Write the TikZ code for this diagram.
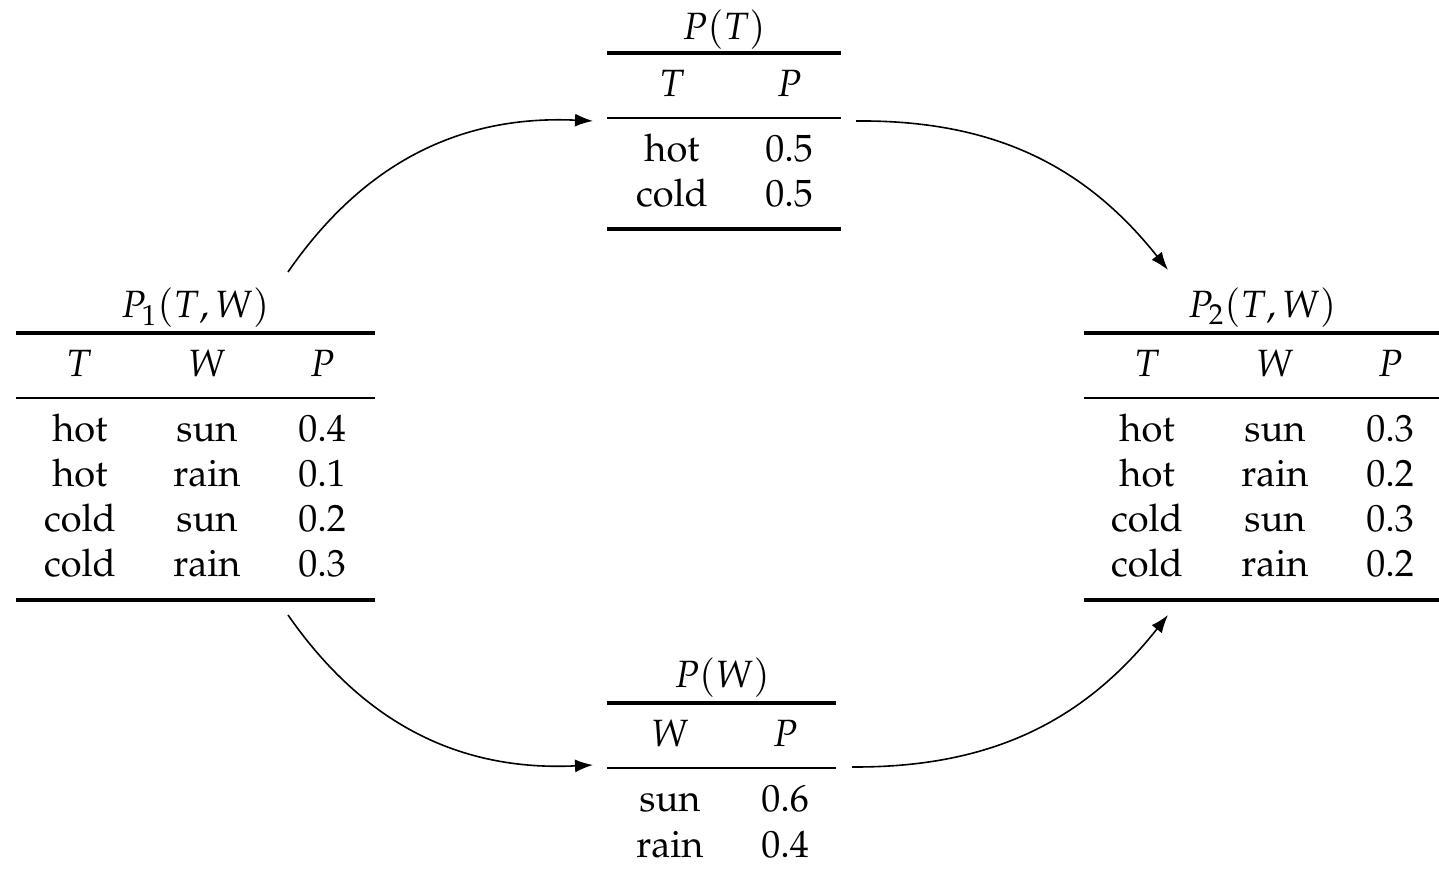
\documentclass[tikz,border=0pt]{standalone}
\usepackage[T1]{fontenc}
\usepackage{mathpazo}
\usetikzlibrary{arrows.meta}
\begin{document}
\begin{tikzpicture}[x=0.5pt,y=0.5pt,
  cell/.style={anchor=base,inner sep=0pt,font=\fontsize{19}{23}\selectfont},
  heavyrule/.style={line width=1.9pt},
  lightrule/.style={line width=1.05pt},
  flow/.style={line width=0.8pt,-{Latex[length=9pt,width=6.5pt]}}]
\useasboundingbox (0,0) rectangle (1439,876);
% ---------- P1(T,W)
\node[cell] (p1title) at (195,558) {$P_1(T,W)$};
\draw[heavyrule] (16,543) -- (375,543);
\node[cell] (p1hT) at (79,499) {$T$};
\node[cell] (p1hW) at (207,499) {$W$};
\node[cell] (p1hP) at (322,499) {$P$};
\draw[lightrule] (16,478) -- (375,478);
\node[cell] (p1a1) at (80,434) {hot};  \node[cell] (p1b1) at (207,434) {sun};  \node[cell] (p1c1) at (322,434) {0.4};
\node[cell] (p1a2) at (80,389) {hot};  \node[cell] (p1b2) at (207,389) {rain}; \node[cell] (p1c2) at (322,389) {0.1};
\node[cell] (p1a3) at (80,344) {cold}; \node[cell] (p1b3) at (207,344) {sun};  \node[cell] (p1c3) at (322,344) {0.2};
\node[cell] (p1a4) at (80,299) {cold}; \node[cell] (p1b4) at (207,299) {rain}; \node[cell] (p1c4) at (322,299) {0.3};
\draw[heavyrule] (16,276) -- (375,276);
% ---------- P2(T,W)
\node[cell] (p2title) at (1262,558) {$P_2(T,W)$};
\draw[heavyrule] (1084,543) -- (1439,543);
\node[cell] (p2hT) at (1147,499) {$T$};
\node[cell] (p2hW) at (1275,499) {$W$};
\node[cell] (p2hP) at (1390,499) {$P$};
\draw[lightrule] (1084,478) -- (1439,478);
\node[cell] (p2a1) at (1147,434) {hot};  \node[cell] (p2b1) at (1275,434) {sun};  \node[cell] (p2c1) at (1390,434) {0.3};
\node[cell] (p2a2) at (1147,389) {hot};  \node[cell] (p2b2) at (1275,389) {rain}; \node[cell] (p2c2) at (1390,389) {0.2};
\node[cell] (p2a3) at (1147,344) {cold}; \node[cell] (p2b3) at (1275,344) {sun};  \node[cell] (p2c3) at (1390,344) {0.3};
\node[cell] (p2a4) at (1147,299) {cold}; \node[cell] (p2b4) at (1275,299) {rain}; \node[cell] (p2c4) at (1390,299) {0.2};
\draw[heavyrule] (1084,276) -- (1439,276);
% ---------- P(T)
\node[cell] (pttitle) at (724,836) {$P(T)$};
\draw[heavyrule] (607,823) -- (841,823);
\node[cell] (pthT) at (672,779) {$T$};
\node[cell] (pthP) at (789,779) {$P$};
\draw[lightrule] (607,758) -- (841,758);
\node[cell] (pta1) at (672,714) {hot};  \node[cell] (ptb1) at (789,714) {0.5};
\node[cell] (pta2) at (672,669) {cold}; \node[cell] (ptb2) at (789,669) {0.5};
\draw[heavyrule] (607,647) -- (841,647);
% ---------- P(W)
\node[cell] (pwtitle) at (722,188) {$P(W)$};
\draw[heavyrule] (607,173) -- (836,173);
\node[cell] (pwhW) at (670,129) {$W$};
\node[cell] (pwhP) at (785,129) {$P$};
\draw[lightrule] (607,108) -- (836,108);
\node[cell] (pwa1) at (670,64) {sun};  \node[cell] (pwb1) at (785,64) {0.6};
\node[cell] (pwa2) at (670,18) {rain}; \node[cell] (pwb2) at (785,18) {0.4};
% ---------- connector ends
\coordinate (p1up) at (288,604);
\coordinate (p1down) at (288,261);
\coordinate (ptin) at (593,755);
\coordinate (ptout) at (856,755);
\coordinate (pwin) at (593,111);
\coordinate (pwout) at (852,109);
\coordinate (p2top) at (1168,606);
\coordinate (p2bot) at (1168,261);
\draw[flow] (p1up) to[bend left=29] (ptin);
\draw[flow] (ptout) to[bend left=26] (p2top);
\draw[flow] (p1down) to[bend right=29] (pwin);
\draw[flow] (pwout) to[bend right=26] (p2bot);
\end{tikzpicture}
\end{document}
